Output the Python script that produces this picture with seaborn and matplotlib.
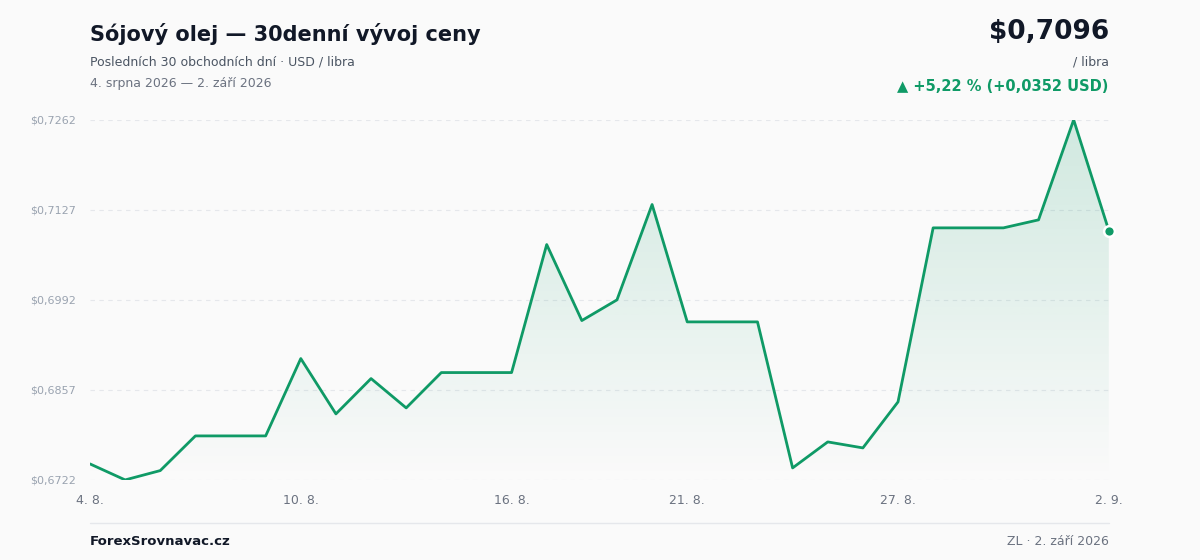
import matplotlib
matplotlib.use("Agg")
import matplotlib.pyplot as plt
import seaborn as sns
import numpy as np
import pandas as pd
from matplotlib.ticker import FuncFormatter

values = [0.6746, 0.6722, 0.6736, 0.6788, 0.6788, 0.6788, 0.6904, 0.6821, 0.6874, 0.6830,
          0.6883, 0.6883, 0.6883, 0.7075, 0.6961, 0.6992, 0.7135, 0.6959, 0.6959, 0.6959,
          0.6740, 0.6779, 0.6770, 0.6839, 0.7100, 0.7100, 0.7100, 0.7112, 0.7262, 0.7096]
xtick_pos = [0, 6, 12, 17, 23, 29]
xtick_labels = ["4. 8.", "10. 8.", "16. 8.", "21. 8.", "27. 8.", "2. 9."]
ytick_vals = [0.6722, 0.6857, 0.6992, 0.7127, 0.7262]

sns.set_theme(style="white")
plt.rcParams['font.family'] = ['DejaVu Sans']
BG = "#fafafa"
GREEN = "#0f9a66"

df = pd.DataFrame({"i": np.arange(len(values)), "v": values})
fig = plt.figure(figsize=(12, 5.6), dpi=100, facecolor=BG)
ax = fig.add_axes([0.075, 0.143, 0.849, 0.643], facecolor=BG)

ymin, ymax = min(ytick_vals), max(ytick_vals)
# gradient fill
grad = np.linspace(0, 1, 256).reshape(-1, 1)
from matplotlib.colors import LinearSegmentedColormap
cmap = LinearSegmentedColormap.from_list("g", [(0.06, 0.6, 0.4, 0.0), (0.06, 0.6, 0.4, 0.18)])
im = ax.imshow(grad, aspect="auto", cmap=cmap, origin="lower",
               extent=[0, len(values) - 1, ymin, ymax], zorder=1)
poly = ax.fill_between(df["i"], df["v"], ymin, color="none")
im.set_clip_path(poly.get_paths()[0], transform=ax.transData)

sns.lineplot(data=df, x="i", y="v", ax=ax, color=GREEN, lw=2, zorder=3)
ax.scatter([df["i"].iloc[-1]], [df["v"].iloc[-1]], s=60, color=GREEN, edgecolor="white", linewidth=1.8, zorder=4, clip_on=False)

ax.set_xlim(0, len(values) - 1)
ax.set_ylim(ymin, ymax)
ax.set_yticks(ytick_vals)
ax.yaxis.set_major_formatter(FuncFormatter(lambda v, p: ("$%.4f" % v).replace(".", ",")))
ax.set_xticks(xtick_pos)
ax.set_xticklabels(xtick_labels)
ax.tick_params(axis="y", labelsize=8, colors="#9aa3b0", length=0, pad=10)
ax.tick_params(axis="x", labelsize=9, colors="#6b7280", length=0, pad=10)
for lab in ax.get_xticklabels():
    lab.set_color("#6b7280")
ax.set_xlabel(""); ax.set_ylabel("")
ax.grid(axis="y", color="#e5e7eb", ls=(0, (4, 4)), lw=0.8)
for s in ax.spines.values():
    s.set_visible(False)

fig.text(0.075, 0.94, "Sójový olej — 30denní vývoj ceny", fontsize=15, fontweight="bold", color="#111827", va="center")
fig.text(0.075, 0.89, "Posledních 30 obchodních dní · USD / libra", fontsize=9, color="#4b5563", va="center")
fig.text(0.075, 0.851, "4. srpna 2026 — 2. září 2026", fontsize=9, color="#6b7280", va="center")
fig.text(0.924, 0.943, "$0,7096", fontsize=19, fontweight="bold", color="#111827", va="center", ha="right")
fig.text(0.924, 0.89, "/ libra", fontsize=9, color="#4b5563", va="center", ha="right")
fig.text(0.924, 0.845, "▲ +5,22 % (+0,0352 USD)", fontsize=10.5, fontweight="bold", color=GREEN, va="center", ha="right")

fig.add_artist(plt.Line2D([0.075, 0.924], [0.066, 0.066], color="#e5e7eb", lw=1))
fig.text(0.075, 0.033, "ForexSrovnavac.cz", fontsize=9.5, fontweight="bold", color="#111827", va="center")
fig.text(0.924, 0.033, "ZL · 2. září 2026", fontsize=9, color="#6b7280", va="center", ha="right")

fig.savefig("out.png", dpi=100, facecolor=BG)
